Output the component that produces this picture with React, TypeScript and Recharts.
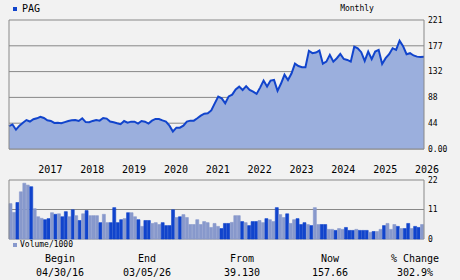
import React from 'react';
import { AreaChart, Area, BarChart, Bar, Cell, XAxis, YAxis, CartesianGrid, ReferenceLine } from 'recharts';

// Monthly closes, Apr 2016 .. Mar 2026
const price: number[] = [
  39.1, 42, 33, 40, 45, 49.5, 47, 51, 52.5, 55,
  53, 49, 48, 44.5, 45, 44, 46, 48, 49, 49.7,
  48, 52.5, 46, 45.7, 48, 49.7, 48.5, 53, 52, 47,
  45.7, 44, 42.5, 47.9, 45.1, 46.8, 46.8, 43.4, 47.9, 46.8,
  43.4, 48.5, 51.4, 51.4, 49, 47, 40, 30, 36.5, 36.5,
  40, 46.8, 48.5, 48.5, 52.5, 57, 60.5, 61, 66, 78,
  89.6, 86.7, 78.2, 90, 93, 102, 106.7, 101, 107.5, 101,
  98, 94.2, 105, 117, 106.7, 117, 118.2, 99.5, 112, 127,
  118, 129, 146, 142, 140, 140, 168, 164, 165, 168.3,
  146, 149.5, 161, 149.5, 155.3, 162.7, 154, 152.4, 149.5, 175,
  172.4, 165.6, 150.7, 166.6, 153.6, 166.6, 169.5, 145.5, 155.3, 162.2,
  172.4, 169.5, 185.4, 176, 162.2, 163.9, 160, 158, 157.5, 157.66,
];

// Volume / 1000
const volume: number[] = [
  13.2, 9.9, 13.6, 17.6, 20.8, 20.1, 19.5, 11.3, 8.3, 7.7,
  7.2, 7.6, 9.8, 9.2, 9.4, 8.3, 10.2, 8.3, 10.9, 8.7,
  6.9, 9.4, 10.6, 8.7, 8.7, 8.7, 6.1, 9.2, 6.1, 6.1,
  11.7, 6.1, 7.2, 7.6, 9.8, 9.8, 8.3, 7.2, 4.7, 6.9,
  6.9, 5.8, 6.1, 5.4, 6.1, 5.0, 5.0, 10.9, 8.0, 8.3,
  9.1, 8.0, 5.4, 5.4, 7.2, 5.4, 6.5, 6.1, 4.3, 5.8,
  4.7, 3.9, 5.8, 5.8, 6.2, 8.7, 8.7, 6.5, 6.1, 5.0,
  6.5, 6.5, 6.9, 6.1, 7.6, 7.2, 6.5, 11.7, 9.1, 8.0,
  9.4, 5.8, 7.2, 7.6, 5.4, 6.1, 5.4, 5.0, 11.7, 5.4,
  5.4, 5.4, 3.6, 3.6, 3.2, 3.9, 3.6, 4.3, 3.2, 3.2,
  3.6, 3.2, 3.2, 3.2, 2.5, 2.8, 2.8, 3.6, 5.0, 5.8,
  3.6, 5.4, 4.7, 3.9, 3.9, 5.8, 3.9, 4.7, 4.3, 5.4,
];

// 1 = dark bar month, 0 = light bar month
const volumeDark: number[] = [
  0, 0, 1, 0, 0, 0, 1, 0, 0, 0,
  1, 1, 0, 1, 0, 1, 1, 0, 1, 0,
  1, 0, 1, 0, 0, 0, 1, 0, 0, 1,
  1, 1, 1, 0, 1, 0, 0, 1, 0, 1,
  1, 0, 0, 0, 1, 1, 1, 1, 0, 1,
  0, 0, 0, 0, 0, 0, 0, 0, 0, 0,
  0, 1, 1, 1, 0, 0, 0, 1, 0, 1,
  1, 1, 0, 0, 1, 0, 0, 1, 0, 0,
  1, 0, 0, 1, 1, 1, 0, 1, 0, 0,
  1, 1, 0, 0, 1, 0, 0, 1, 1, 1,
  0, 1, 1, 1, 0, 1, 0, 0, 1, 0,
  0, 0, 1, 0, 1, 1, 0, 1, 1, 0,
];

const yearTickIndex: number[] = [9, 21, 33, 45, 57, 69, 81, 93, 105, 117];
const yearLabels: string[] = ['2017', '2018', '2019', '2020', '2021', '2022', '2023', '2024', '2025', '2026'];
const priceTicks: number[] = [0, 44.13, 88.27, 132.4, 176.53, 220.67];
const volumeTicks: number[] = [0, 11, 22];

const tableLabels: string[] = ['Begin', 'End', 'From', 'Now', '% Change'];
const tableValues: string[] = ['04/30/16', '03/05/26', '39.130', '157.66', '302.9%'];

const priceData = price.map((p, i) => ({ i, price: p }));
const volumeData = volume.map((v, i) => ({ i, volume: v, dark: volumeDark[i] }));

const BG = '#f2f2f2';
const GRID = '#888888';
const LINE = '#1144cc';
const AREA = '#9bafdd';
const BAR_DARK = '#1144cc';
const BAR_LIGHT = '#8899cc';
const FONT = '"DejaVu Sans Mono", monospace';

const YearTick = (props: any) => {
  const { x, y, payload } = props;
  const k = yearTickIndex.indexOf(payload.value);
  return (
    <text x={x + 10} y={y + 24} textAnchor="middle" fontSize={10} fontFamily={FONT} fill="#000">
      {k >= 0 ? yearLabels[k] : ''}
    </text>
  );
};

const fmtPrice = (v: number) => (v === 0 ? '0.00' : String(Math.round(v)));

const tableCenters = [60, 147, 242, 330, 415];

export default function App() {
  return (
    <div
      style={{
        position: 'absolute',
        left: 0,
        top: 0,
        width: 460,
        height: 280,
        background: BG,
        overflow: 'hidden',
        fontFamily: FONT,
        color: '#000',
      }}
    >
      <div style={{ position: 'absolute', left: 13, top: 7, width: 4, height: 4, background: LINE }} />
      <div style={{ position: 'absolute', left: 22, top: 3, fontSize: 10, lineHeight: '12px' }}>PAG</div>
      <div style={{ position: 'absolute', left: 307, top: 4, width: 100, textAlign: 'center', fontSize: 8, lineHeight: '10px' }}>
        Monthly
      </div>

      <div style={{ position: 'absolute', left: 0, top: 0 }}>
        <AreaChart width={460} height={180} data={priceData} margin={{ top: 20, right: 0, bottom: 0, left: 0 }}>
          <CartesianGrid yAxisId="p" vertical={false} stroke={GRID} />
          <XAxis
            dataKey="i"
            type="number"
            domain={[0, 119]}
            ticks={yearTickIndex}
            tick={<YearTick />}
            tickLine={false}
            axisLine={false}
            tickSize={0}
            tickMargin={0}
            height={31}
            interval={0}
          />
          <YAxis yAxisId="frame" orientation="left" width={9} tick={false} tickLine={false} axisLine={{ stroke: GRID }} />
          <YAxis
            yAxisId="p"
            orientation="right"
            width={36}
            domain={[0, 220.67]}
            ticks={priceTicks}
            tickFormatter={fmtPrice}
            tickLine={false}
            tickSize={2}
            tickMargin={2}
            axisLine={{ stroke: GRID }}
            tick={{ fontSize: 8, fontFamily: FONT, fill: '#000' }}
            interval={0}
          />
          <Area
            yAxisId="p"
            type="linear"
            dataKey="price"
            stroke={LINE}
            strokeWidth={2}
            fill={AREA}
            fillOpacity={1}
            dot={false}
            activeDot={false}
            isAnimationActive={false}
          />
          <ReferenceLine yAxisId="p" y={0} stroke={GRID} />
        </AreaChart>
      </div>

      <div style={{ position: 'absolute', left: 0, top: 170 }}>
        <BarChart width={460} height={76} data={volumeData} margin={{ top: 10, right: 0, bottom: 7, left: 0 }} barCategoryGap={0}>
          <CartesianGrid yAxisId="v" vertical={false} stroke={GRID} />
          <XAxis dataKey="i" hide />
          <YAxis yAxisId="frame" orientation="left" width={9} tick={false} tickLine={false} axisLine={{ stroke: GRID }} />
          <YAxis
            yAxisId="v"
            orientation="right"
            width={36}
            domain={[0, 22]}
            ticks={volumeTicks}
            tickLine={false}
            tickSize={2}
            tickMargin={2}
            axisLine={{ stroke: GRID }}
            tick={{ fontSize: 8, fontFamily: FONT, fill: '#000' }}
            interval={0}
          />
          <Bar yAxisId="v" dataKey="volume" isAnimationActive={false}>
            {volumeData.map((d, i) => (
              <Cell
                key={i}
                fill={d.dark ? BAR_DARK : BAR_LIGHT}
                stroke={d.dark ? BAR_DARK : BAR_LIGHT}
                strokeWidth={0.6}
              />
            ))}
          </Bar>
        </BarChart>
      </div>

      <div style={{ position: 'absolute', left: 13, top: 243, width: 4, height: 4, background: BAR_LIGHT }} />
      <div style={{ position: 'absolute', left: 20, top: 240, fontSize: 8, lineHeight: '10px' }}>Volume/1000</div>

      {tableLabels.map((t, k) => (
        <div
          key={'l' + k}
          style={{ position: 'absolute', left: tableCenters[k] - 40, top: 253, width: 80, textAlign: 'center', fontSize: 10, lineHeight: '12px' }}
        >
          {t}
        </div>
      ))}
      {tableValues.map((t, k) => (
        <div
          key={'v' + k}
          style={{ position: 'absolute', left: tableCenters[k] - 40, top: 267, width: 80, textAlign: 'center', fontSize: 10, lineHeight: '12px' }}
        >
          {t}
        </div>
      ))}
    </div>
  );
}
